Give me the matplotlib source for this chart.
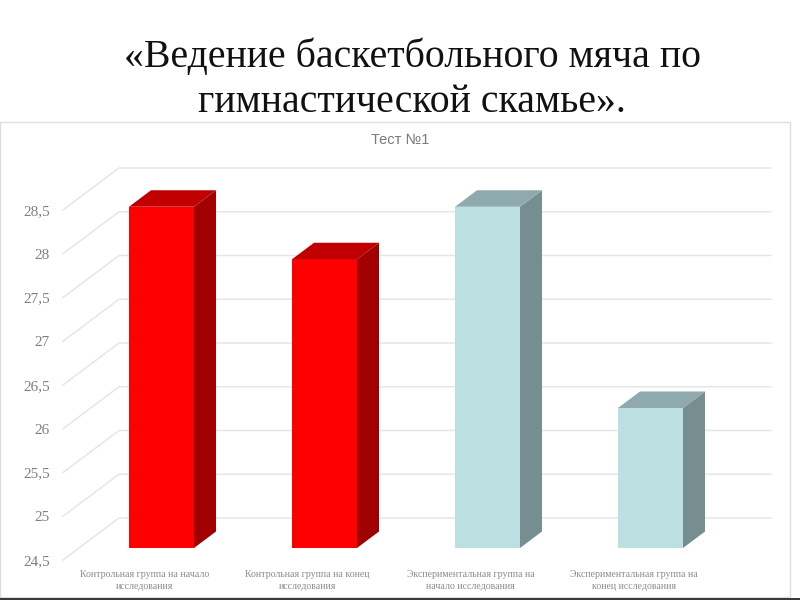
import matplotlib as mpl

mpl.use("Agg")
import matplotlib.pyplot as plt
from matplotlib.patches import Polygon, Rectangle

title_lines = ["«Ведение баскетбольного мяча по", "гимнастической скамье»."]
chart_title = "Тест №1"
categories = [
    "Контрольная группа на начало\nисследования",
    "Контрольная группа на конец\nисследования",
    "Экспериментальная группа на\nначало исследования",
    "Экспериментальная группа на\nконец исследования",
]
values = [28.4, 27.8, 28.4, 26.1]
y_ticks = [24.5, 25, 25.5, 26, 26.5, 27, 27.5, 28, 28.5]
y_labels = ["24,5", "25", "25,5", "26", "26,5", "27", "27,5", "28", "28,5"]

front_colors = ["#ff0000", "#ff0000", "#bce0e2", "#bce0e2"]
top_colors = ["#c00000", "#c00000", "#8eaaac", "#8eaaac"]
side_colors = ["#a00000", "#a00000", "#768e90", "#768e90"]

W, H = 800, 600
# depth of the fake 3d box, in data units
DX, DY = 56 / 163, 42 / 87.5
BAR_FRONT, BAR_BACK = 12 / 42, 28.5 / 42
BAR_WIDTH = 65 / 163
BAR_NUDGE = 1 / 163

fig = plt.figure(figsize=(W / 100, H / 100), dpi=100)
fig.add_artist(Rectangle((0, 3 / H), 790 / W, 475 / H, fc="white", ec="#dedede", lw=1, zorder=-1))
fig.add_artist(Rectangle((0, 0), 1, 2 / H, fc="#3a3a3a", ec="none", zorder=-1))

for line, y in zip(title_lines, [57, 102]):
    fig.text(412 / W, 1 - y / H, line, ha="center", va="center", color="#111111",
             family="Liberation Serif", fontsize=28.6)
fig.text(400 / W, 1 - 140 / H, chart_title, ha="center", va="center", color="#7a7a7a",
         family="Liberation Sans", fontsize=10.5)

ax = fig.add_axes([63 / W, 1 - 560 / H, 708 / W, 392 / H])
ax.patch.set_alpha(0)
ax.set_xlim(0, 708 / 163)
ax.set_ylim(24.5, 24.5 + 392 / 87.5)
for spine in ax.spines.values():
    spine.set_visible(False)

# grid: back wall lines plus the diagonals on the side wall
for v in y_ticks:
    ax.plot([0, DX, len(categories) + DX], [v, v + DY, v + DY], color="#e6e6e6", lw=1.1,
            clip_on=False, zorder=1)

for i, v in enumerate(values):
    x0 = i + 0.5 - BAR_WIDTH / 2 + DX * BAR_FRONT + BAR_NUDGE
    x1 = x0 + BAR_WIDTH
    y0 = y_ticks[0] + DY * BAR_FRONT
    y1 = v + DY * BAR_FRONT
    sx = DX * (BAR_BACK - BAR_FRONT)
    sy = DY * (BAR_BACK - BAR_FRONT)
    ax.bar(x0, y1 - y0, BAR_WIDTH, bottom=y0, align="edge", color=front_colors[i], zorder=3)
    ax.add_patch(Polygon([(x1, y0), (x1 + sx, y0 + sy), (x1 + sx, y1 + sy), (x1, y1)],
                         fc=side_colors[i], ec="none", zorder=3))
    ax.add_patch(Polygon([(x0, y1), (x0 + sx, y1 + sy), (x1 + sx, y1 + sy), (x1, y1)],
                         fc=top_colors[i], ec="none", zorder=3))

ax.set_yticks(y_ticks, y_labels, family="Liberation Serif", fontsize=11, color="#7f7f7f")
ax.set_xticks([i + 0.5 for i in range(len(categories))], categories,
              family="Liberation Serif", fontsize=7.1, color="#8c8c8c", linespacing=1.4)
ax.tick_params(axis="y", length=0, pad=9.5)
ax.tick_params(axis="x", length=0, pad=7)

fig.savefig("out.png", dpi=100)
plt.close(fig)
